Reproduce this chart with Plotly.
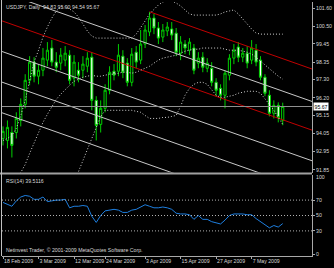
import plotly.graph_objects as go

# ---------------- data ----------------
bars = list(range(64))
opens = [93.74, 93.62, 94.10, 94.10, 94.83, 95.80, 97.25, 98.35, 97.50, 97.86,
         98.47, 99.20, 98.35, 98.29, 98.47, 98.77, 97.38, 97.86, 97.86, 98.10,
         98.65, 96.04, 94.59, 95.56, 96.65, 97.80, 97.80, 98.71, 98.29, 97.13,
         98.95, 98.47, 99.44, 100.17, 101.01, 100.41, 99.86, 100.23, 100.35, 100.10,
         98.89, 99.44, 99.07, 99.20, 98.29, 98.65, 97.98, 97.98, 97.13, 96.77,
         96.35, 97.56, 98.59, 99.26, 98.65, 98.89, 98.47, 99.07, 98.47, 97.44,
         96.35, 95.26, 95.74, 94.83]
highs = [94.47, 94.83, 94.47, 95.32, 96.16, 97.62, 98.71, 98.65, 98.23, 99.20,
         99.56, 99.68, 98.95, 99.20, 99.32, 99.07, 98.77, 98.35, 98.71, 98.95,
         98.95, 96.29, 96.04, 97.01, 98.10, 98.23, 99.44, 99.07, 98.59, 99.20,
         99.32, 100.29, 100.59, 101.38, 101.26, 100.77, 100.65, 100.77, 100.77, 100.41,
         99.92, 99.68, 99.80, 99.44, 98.95, 98.95, 98.59, 98.35, 97.38, 97.01,
         97.86, 98.83, 99.44, 99.56, 99.20, 99.32, 99.68, 99.44, 98.71, 97.62,
         96.65, 96.04, 95.92, 95.90]
lows = [93.32, 93.14, 92.59, 93.74, 94.47, 95.56, 96.95, 97.13, 97.01, 97.50,
        98.10, 98.10, 97.74, 97.86, 98.10, 97.01, 96.89, 97.13, 97.38, 97.74,
        95.44, 93.62, 94.10, 95.32, 96.41, 97.25, 97.50, 97.38, 96.89, 96.89,
        97.98, 98.23, 99.20, 99.92, 100.04, 99.44, 99.56, 99.92, 99.68, 98.71,
        98.47, 98.83, 98.77, 97.62, 97.98, 97.74, 97.74, 96.89, 96.29, 96.04,
        95.56, 97.25, 98.23, 98.35, 98.35, 97.98, 98.23, 98.10, 97.25, 96.29,
        95.07, 94.95, 94.71, 94.54]
closes = [94.17, 94.41, 93.32, 94.95, 95.80, 97.25, 98.35, 97.50, 97.86, 98.59,
          99.07, 98.35, 98.04, 98.77, 98.89, 97.25, 98.35, 97.56, 98.23, 98.59,
          96.04, 94.53, 95.56, 96.65, 97.74, 97.56, 98.77, 97.74, 97.13, 98.83,
          98.35, 99.44, 100.29, 101.01, 100.41, 99.80, 100.29, 100.47, 99.98, 98.95,
          99.56, 99.20, 99.56, 97.86, 98.59, 98.04, 98.29, 97.13, 96.65, 96.35,
          97.68, 98.59, 99.07, 98.65, 98.89, 98.29, 99.20, 98.35, 97.44, 96.47,
          95.26, 95.74, 95.01, 95.67]

bb_upper = [93.62, 93.74, 93.92, 94.35, 95.13, 96.04, 97.25, 98.35, 99.07, 99.86,
            100.47, 101.01, 101.44, 101.68, 101.68, 101.56, 101.38, 101.07, 100.65, 100.23,
            99.92, 99.80, 99.80, 99.80, 99.80, 99.80, 99.80, 99.80, 99.80, 99.80,
            100.04, 100.41, 100.83, 101.26, 101.56, 101.80, 101.98, 102.04, 102.04, 101.92,
            101.74, 101.50, 101.26, 101.19, 101.19, 101.19, 101.19, 101.19, 101.19, 101.26,
            101.38, 101.44, 101.50, 101.26, 100.95, 100.65, 100.35, 100.10, 100.04, 100.04,
            100.04, 100.04, 100.04, 100.04]
bb_middle = [90.90, 91.08, 91.26, 91.44, 91.68, 92.17, 92.84, 93.50, 94.05, 94.71,
             95.20, 95.68, 96.10, 96.41, 96.71, 96.95, 97.19, 97.32, 97.44, 97.50,
             97.56, 97.50, 97.50, 97.56, 97.62, 97.62, 97.68, 97.74, 97.74, 97.68,
             97.74, 97.86, 97.98, 98.10, 98.29, 98.47, 98.59, 98.65, 98.71, 98.77,
             98.89, 99.01, 99.07, 99.13, 99.13, 99.20, 99.20, 99.20, 99.20, 99.20,
             99.13, 99.07, 99.07, 99.07, 99.01, 98.95, 98.83, 98.65, 98.41, 98.17,
             97.92, 97.68, 97.50, 97.32]
bb_lower = [88.18, 88.42, 88.60, 88.53, 88.23, 88.30, 88.43, 88.65, 89.03, 89.56,
            89.93, 90.35, 90.76, 91.14, 90.50, 91.00, 91.40, 91.74, 92.41, 93.14,
            93.80, 94.41, 95.07, 95.44, 95.44, 95.44, 95.44, 95.44, 95.44, 95.44,
            95.38, 95.32, 95.13, 94.95, 94.95, 94.95, 95.01, 95.01, 95.07, 95.13,
            95.68, 96.35, 96.77, 97.01, 97.13, 97.13, 97.01, 96.65, 96.35, 96.23,
            96.23, 96.29, 96.35, 96.47, 96.53, 96.59, 96.59, 96.59, 96.47, 96.16,
            95.80, 95.44, 95.01, 94.59]

rsi = [67, 65, 62, 69, 74, 76, 75, 71, 71, 74,
       68, 69, 70, 70, 71, 60, 62, 62, 63, 62,
       49, 41, 50, 56, 57, 58, 57, 54, 54, 57,
       58, 61, 64, 62, 60, 60, 61, 60, 58, 53,
       52, 52, 51, 45, 50, 45, 45, 42, 40, 39,
       44, 50, 52, 52, 52, 51, 51, 46, 42, 38,
       34, 37, 35, 39.5116]

price_ticks = [101.60, 100.50, 99.45, 98.35, 97.30, 96.20, 95.15, 94.05, 92.95, 91.85]
rsi_ticks = [100, 70, 50, 30, 0]
rsi_levels = [70, 50, 30]
date_tick_bars = [0, 8, 16, 23, 32, 40, 48, 56]
date_tick_labels = ["18 Feb 2009", "3 Mar 2009", "12 Mar 2009", "24 Mar 2009",
                    "3 Apr 2009", "15 Apr 2009", "27 Apr 2009", "7 May 2009"]
bid_price = 95.67
title_text = "USDJPY, Daily  94.83 95.90 94.54 95.67"
rsi_text = "RSI(14) 39.5116"
copyright_text = "Netinvest Trader, © 2001-2009 MetaQuotes Software Corp."

chan_slope = -0.0945            # price change per bar
red_levels = [100.82, 104.51]   # channel line value at bar 0
red_starts = [-1, 33]
grey_levels = [102.55, 98.97, 97.12, 95.27]
line_end_bar = 80

# ---------------- figure ----------------
W, H = 334, 268
GREEN = "#00D000"
TXT = "#D8D8D8"
AX = "#A8A8A8"
FONT = "Liberation Sans, Arial, sans-serif"
FS = 5.2

def px_x(p):
    return p / W

def px_y(p):
    return 1 - p / H

fig = go.Figure()

for lvl in grey_levels:
    xs = [-1, line_end_bar]
    ys = [lvl + chan_slope * x for x in xs]
    fig.add_trace(go.Scatter(x=xs, y=ys, mode="lines",
                             line=dict(color="#C8C8C8", width=1),
                             hoverinfo="skip", showlegend=False))
for lvl, st in zip(red_levels, red_starts):
    xs = [st, line_end_bar]
    ys = [lvl + chan_slope * x for x in xs]
    fig.add_trace(go.Scatter(x=xs, y=ys, mode="lines",
                             line=dict(color="#C00000", width=1),
                             hoverinfo="skip", showlegend=False))

for band in (bb_upper, bb_middle, bb_lower):
    fig.add_trace(go.Scatter(x=bars, y=band, mode="lines",
                             line=dict(color="#D0D0D0", width=1, dash="1px,2px"),
                             hoverinfo="skip", showlegend=False))

fig.add_trace(go.Candlestick(
    x=bars, open=opens, high=highs, low=lows, close=closes,
    increasing=dict(line=dict(color=GREEN, width=1), fillcolor="black"),
    decreasing=dict(line=dict(color=GREEN, width=1), fillcolor="white"),
    whiskerwidth=0, showlegend=False, hoverinfo="skip"))

fig.add_trace(go.Scatter(x=bars, y=rsi, mode="lines", yaxis="y2",
                         line=dict(color="#1E7FE0", width=1),
                         hoverinfo="skip", showlegend=False))

shapes = []
shapes.append(dict(type="line", xref="x domain", yref="y", x0=0, x1=1,
                   y0=bid_price, y1=bid_price, line=dict(color="#909090", width=1)))
for lv in rsi_levels:
    shapes.append(dict(type="line", xref="x domain", yref="y2", x0=0, x1=1,
                       y0=lv, y1=lv, line=dict(color="#B0B0B0", width=1, dash="1px,2px")))
shapes.append(dict(type="line", xref="paper", yref="paper", x0=0, x1=px_x(312),
                   y0=px_y(173.5), y1=px_y(173.5), line=dict(color="#A0A0A0", width=2)))
shapes.append(dict(type="line", xref="paper", yref="paper", x0=px_x(1.5), x1=px_x(1.5),
                   y0=px_y(256), y1=px_y(0), line=dict(color="#C0C0C0", width=1)))

annotations = [
    dict(xref="paper", yref="paper", x=px_x(4), y=px_y(2.5), xanchor="left", yanchor="top",
         text=title_text, showarrow=False, font=dict(family=FONT, size=FS, color=TXT)),
    dict(xref="paper", yref="paper", x=px_x(4), y=px_y(176), xanchor="left", yanchor="top",
         text=rsi_text, showarrow=False, font=dict(family=FONT, size=FS, color=TXT)),
    dict(xref="paper", yref="paper", x=px_x(4), y=px_y(255), xanchor="left", yanchor="bottom",
         text=copyright_text, showarrow=False, font=dict(family=FONT, size=FS, color=TXT)),
    dict(xref="paper", yref="y", x=px_x(313), y=bid_price, xanchor="left", yanchor="middle",
         text=f"{bid_price:.2f}", showarrow=False, bgcolor="white",
         font=dict(family=FONT, size=FS, color="black"), borderpad=0.5),
    # top RSI scale label (plotly drops it at the panel edge)
    dict(xref="paper", yref="y2", x=px_x(314), y=rsi_ticks[0], xanchor="left", yanchor="middle",
         text=str(rsi_ticks[0]), showarrow=False, font=dict(family=FONT, size=FS, color=TXT)),
]

x_lo = (2 - 3) / 4.44
x_hi = (312 - 3) / 4.44

fig.update_layout(
    width=W, height=H, autosize=False,
    margin=dict(l=0, r=0, t=0, b=0, pad=0),
    paper_bgcolor="black", plot_bgcolor="black",
    showlegend=False,
    font=dict(family=FONT, size=FS, color=TXT),
    shapes=shapes, annotations=annotations,
    xaxis=dict(domain=[px_x(2), px_x(312)], range=[x_lo, x_hi], anchor="y2",
               rangeslider=dict(visible=False), showgrid=False, zeroline=False,
               tickvals=date_tick_bars, ticktext=date_tick_labels,
               tickangle=0, ticks="outside", ticklen=2, tickcolor=AX,
               ticklabelposition="outside right",
               tickfont=dict(family=FONT, size=FS, color=TXT),
               showline=True, linecolor=AX, linewidth=1),
    yaxis=dict(domain=[px_y(172.5), px_y(2)], range=[91.685, 101.98],
               side="right", anchor="x", showgrid=False, zeroline=False,
               tickvals=price_ticks, ticktext=[f"{v:.2f}" for v in price_ticks],
               ticks="outside", ticklen=2, tickcolor=AX,
               tickfont=dict(family=FONT, size=FS, color=TXT),
               showline=True, linecolor=AX, linewidth=1),
    yaxis2=dict(domain=[px_y(256), px_y(175)], range=[-2.6, 102.6],
                side="right", anchor="x", showgrid=False, zeroline=False,
                tickvals=rsi_ticks[1:], ticktext=[str(v) for v in rsi_ticks[1:]],
                ticks="outside", ticklen=2, tickcolor=AX,
                tickfont=dict(family=FONT, size=FS, color=TXT),
                showline=True, linecolor=AX, linewidth=1),
)

fig.write_html("out.html")
